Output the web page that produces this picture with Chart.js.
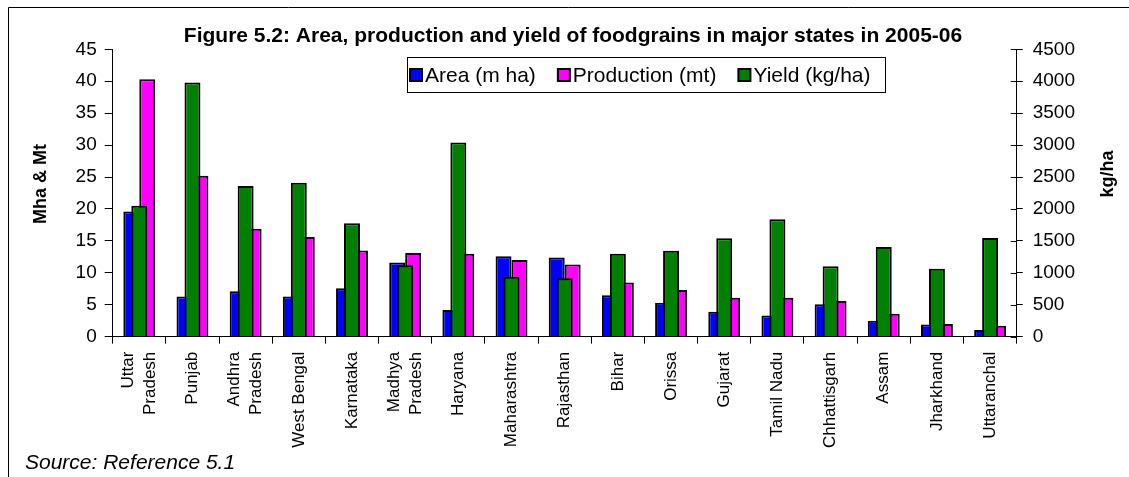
<!DOCTYPE html>
<html>
<head>
<meta charset="utf-8">
<script src="https://cdn.jsdelivr.net/npm/chart.js@4.4.1/dist/chart.umd.min.js"></script>
<style>
html,body{margin:0;padding:0;background:#fff;}
#wrap{width:1129px;height:477px;position:relative;}
canvas{display:block;}
</style>
</head>
<body>
<div id="wrap"><canvas id="c" width="1129" height="477"></canvas></div>
<script>
const FONT = '"Liberation Sans", Arial, sans-serif';

const categories = [
  ['Uttar', 'Pradesh'], 'Punjab', ['Andhra', 'Pradesh'], 'West Bengal', 'Karnataka',
  ['Madhya', 'Pradesh'], 'Haryana', 'Maharashtra', 'Rajasthan', 'Bihar', 'Orissa',
  'Gujarat', 'Tamil Nadu', 'Chhattisgarh', 'Assam', 'Jharkhand', 'Uttaranchal'
];
const seriesNames = ['Area (m ha)', 'Production (mt)', 'Yield (kg/ha)'];
const areaMha =      [19.6, 6.3, 7.1, 6.3, 7.6, 11.6, 4.2, 12.6, 12.4, 6.5, 5.3, 3.9, 3.3, 5.1, 2.5, 1.9, 1.05];
const productionMt = [40.3, 25.2, 16.9, 15.6, 13.5, 13.1, 13.0, 12.0, 11.3, 8.5, 7.3, 6.1, 6.1, 5.6, 3.6, 2.0, 1.7];
const yieldKgHa =    [2050, 3980, 2360, 2410, 1775, 1120, 3040, 940, 915, 1300, 1345, 1540, 1840, 1105, 1405, 1065, 1545];

const leftAxisRange = [0, 45, 5];
const rightAxisRange = [0, 4500, 500];

const titleText = 'Figure 5.2: Area, production and yield of foodgrains in major states in 2005-06';
const leftTitle = 'Mha & Mt';
const rightTitle = 'kg/ha';
const sourceText = 'Source: Reference 5.1';
const seriesColors = ['#0000FF', '#FF00FF', '#008000'];

const decor = {
  id: 'decor',
  afterDraw(chart) {
    const ctx = chart.ctx;
    const ca = chart.chartArea;
    ctx.save();
    // outer frame
    ctx.strokeStyle = '#000';
    ctx.lineWidth = 1;
    ctx.beginPath();
    ctx.moveTo(8.5, 477); ctx.lineTo(8.5, 7.5); ctx.lineTo(1129, 7.5);
    ctx.stroke();

    // title
    ctx.fillStyle = '#000';
    ctx.font = 'bold 21px ' + FONT;
    ctx.textAlign = 'center';
    ctx.textBaseline = 'alphabetic';
    ctx.fillText(titleText, 573, 42);

    // axis titles
    ctx.font = 'bold 18px ' + FONT;
    ctx.textBaseline = 'middle';
    ctx.save(); ctx.translate(41, 184); ctx.rotate(-Math.PI / 2); ctx.fillText(leftTitle, 0, 0); ctx.restore();
    ctx.save(); ctx.translate(1108, 174); ctx.rotate(-Math.PI / 2); ctx.fillText(rightTitle, 0, 0); ctx.restore();

    // category labels (rotated, multi-line centred on the category)
    const xs = chart.scales.x;
    ctx.font = '17px ' + FONT;
    ctx.textAlign = 'right';
    ctx.textBaseline = 'middle';
    const lh = 22;
    const top = ca.bottom + 15;
    categories.forEach((lab, i) => {
      const lines = Array.isArray(lab) ? lab : [lab];
      const px = xs.getPixelForTick(i);
      lines.forEach((ln, j) => {
        const cx = px + (j - (lines.length - 1) / 2) * lh;
        ctx.save(); ctx.translate(cx, top); ctx.rotate(-Math.PI / 2); ctx.fillText(ln, 0, 0); ctx.restore();
      });
    });

    // inner half of right-axis cross ticks
    const y1 = chart.scales.y1;
    ctx.beginPath();
    y1.ticks.forEach(t => {
      const p = Math.round(y1.getPixelForValue(t.value)) + 0.5;
      ctx.moveTo(ca.right - 6, p); ctx.lineTo(ca.right, p);
    });
    ctx.stroke();

    // legend
    const bx = 407.5, by = 57.5, bw = 478, bh = 35;
    ctx.fillStyle = '#fff';
    ctx.fillRect(bx, by, bw, bh);
    ctx.strokeStyle = '#000';
    ctx.strokeRect(bx, by, bw, bh);
    ctx.font = '21px ' + FONT;
    ctx.textAlign = 'left';
    ctx.textBaseline = 'middle';
    let x = 410;
    const cy = 75;
    chart.data.datasets.forEach((ds) => {
      ctx.fillStyle = ds.backgroundColor;
      ctx.fillRect(x, cy - 6, 12, 12);
      ctx.lineWidth = 2;
      ctx.strokeStyle = '#000';
      ctx.strokeRect(x, cy - 6, 12, 12);
      ctx.fillStyle = '#000';
      ctx.fillText(ds.label, x + 15, cy + 1);
      x = x + 15 + ctx.measureText(ds.label).width + 22;
    });

    // source
    ctx.font = 'italic 21px ' + FONT;
    ctx.textAlign = 'left';
    ctx.textBaseline = 'alphabetic';
    ctx.fillStyle = '#000';
    ctx.fillText(sourceText, 25, 469);
    ctx.restore();
  }
};

new Chart(document.getElementById('c'), {
  type: 'bar',
  data: {
    labels: categories,
    datasets: [
      { label: seriesNames[0], data: areaMha, backgroundColor: seriesColors[0], borderColor: '#000', borderWidth: 2,
        yAxisID: 'y', categoryPercentage: 0.6, barPercentage: 1, order: 1 },
      { label: seriesNames[1], data: productionMt, backgroundColor: seriesColors[1], borderColor: '#000', borderWidth: 2,
        yAxisID: 'y', categoryPercentage: 0.6, barPercentage: 1, order: 1 },
      { label: seriesNames[2], data: yieldKgHa, backgroundColor: seriesColors[2], borderColor: '#000', borderWidth: 2,
        yAxisID: 'y1', grouped: false, categoryPercentage: 0.3, barPercentage: 1, order: 0 }
    ]
  },
  options: {
    responsive: false,
    animation: false,
    devicePixelRatio: 1,
    layout: { padding: { top: 49.3, left: 0, right: 0, bottom: 0 } },
    plugins: { legend: { display: false }, title: { display: false }, tooltip: { enabled: false } },
    scales: {
      x: {
        offset: true,
        grid: { drawOnChartArea: false, drawTicks: true, tickLength: 7, color: '#000', offset: true },
        border: { color: '#000' },
        ticks: { display: false, autoSkip: false },
        afterFit(s) { s.height = 140.3; }
      },
      y: {
        position: 'left', min: leftAxisRange[0], max: leftAxisRange[1],
        ticks: { stepSize: leftAxisRange[2], color: '#000', font: { family: FONT, size: 19 }, padding: 8 },
        grid: { drawOnChartArea: false, tickLength: 8, color: '#000' },
        border: { color: '#000' },
        afterFit(s) { s.width = 112.7; }
      },
      y1: {
        position: 'right', min: rightAxisRange[0], max: rightAxisRange[1],
        ticks: { stepSize: rightAxisRange[2], color: '#000', font: { family: FONT, size: 19 }, padding: 10,
                 callback: v => String(v) },
        grid: { drawOnChartArea: false, tickLength: 6, color: '#000' },
        border: { color: '#000' },
        afterFit(s) { s.width = 112.3; }
      }
    }
  },
  plugins: [decor]
});
</script>
</body>
</html>
